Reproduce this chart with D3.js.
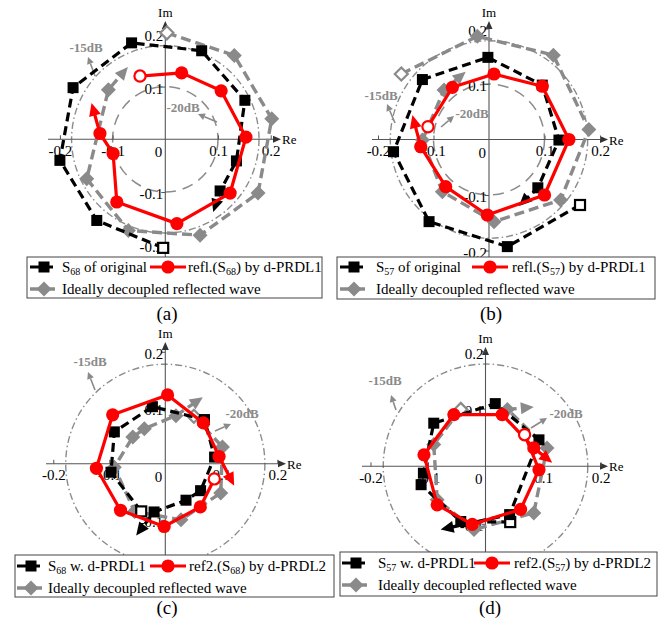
<!DOCTYPE html>
<html>
<head>
<meta charset="utf-8">
<script src="https://cdn.jsdelivr.net/npm/d3@7"></script>
<style>
  body { margin: 0; background: #fff; }
  text { font-family: "Liberation Serif", "Times New Roman", serif; }
</style>
</head>
<body>
<svg id="fig" width="668" height="620"></svg>
<script>
// ---------- data: complex reflection coefficients [Re, Im] ----------
// First entry of each trace is the starting frequency (hollow marker);
// the last entry is where the trace's arrow head ends (no marker).
const ticks = [-0.2, -0.1, 0, 0.1, 0.2];
const dbRings = [-15, -20];

// (a) port 6/8
const aOriginal = [[-0.004,-0.206],[-0.130,-0.154],[-0.200,-0.040],[-0.175,0.098],[-0.064,0.183],[0.069,0.168],[0.151,0.074],[0.135,-0.041],[0.104,-0.098],[0.091,-0.138]];
const aRefl     = [[-0.048,0.120],[0.031,0.126],[0.106,0.092],[0.153,0.004],[0.123,-0.102],[0.022,-0.160],[-0.092,-0.119],[-0.099,-0.027],[-0.124,0.011],[-0.140,0.069]];
const aIdeal    = [[0.003,0.202],[0.131,0.159],[0.202,0.039],[0.176,-0.102],[0.066,-0.182],[-0.070,-0.173],[-0.149,-0.075],[-0.108,0.094],[-0.071,0.137]];

// (b) port 5/7
const bOriginal = [[0.164,-0.118],[0.033,-0.193],[-0.108,-0.148],[-0.172,-0.022],[-0.120,0.108],[-0.002,0.148],[0.096,0.098],[0.126,-0.001],[0.088,-0.087],[0.054,-0.120]];
const bRefl     = [[-0.110,0.023],[-0.066,0.094],[0.009,0.118],[0.096,0.096],[0.144,0.000],[0.100,-0.100],[-0.003,-0.136],[-0.078,-0.085],[-0.123,-0.013],[-0.138,0.044]];
const bIdeal    = [[-0.158,0.118],[-0.021,0.186],[0.116,0.152],[0.180,0.018],[0.129,-0.109],[0.009,-0.148],[-0.084,-0.094],[-0.120,-0.001],[-0.081,0.089],[-0.042,0.122]];

// (c) port 6/8 after d-PRDL1
const cPrdl1 = [[-0.043,-0.085],[-0.097,-0.015],[-0.091,0.057],[-0.023,0.102],[0.070,0.079],[0.088,0.012],[0.063,-0.048],[0.037,-0.065],[-0.020,-0.086],[-0.052,-0.128]];
const cRef2  = [[0.0875,-0.027],[0.0625,-0.077],[-0.002,-0.112],[-0.080,-0.083],[-0.123,-0.008],[-0.094,0.0875],[0.004,0.123],[0.068,0.073],[0.096,0.013],[0.123,-0.039]];
const cIdeal = [[0.051,0.085],[0.102,0.030],[0.099,-0.052],[0.028,-0.100],[-0.055,-0.085],[-0.091,-0.006],[-0.058,0.048],[-0.0375,0.0625],[0.019,0.086],[0.067,0.119]];

// (d) port 5/7 after d-PRDL1
const dPrdl1 = [[0.043,-0.097],[-0.043,-0.096],[-0.112,-0.032],[-0.108,-0.012],[-0.090,0.075],[0.017,0.109],[0.093,0.046],[0.042,-0.084],[-0.078,-0.110]];
const dRef2  = [[0.068,0.055],[0.093,-0.006],[0.061,-0.075],[-0.023,-0.101],[-0.084,-0.067],[-0.107,0.020],[-0.055,0.090],[0.029,0.090],[0.084,0.032],[0.116,0.006]];
const dIdeal = [[-0.043,0.099],[-0.090,0.038],[-0.084,-0.058],[-0.020,-0.110],[0.084,-0.081],[0.107,0.032],[0.038,0.099],[0.084,0.103]];

// legend wording
const legendA = [["S", "68", " of original"], ["refl.(S", "68", ") by d-PRDL1"], ["Ideally decoupled reflected wave"]];
const legendB = [["S", "57", " of original"], ["refl.(S", "57", ") by d-PRDL1"], ["Ideally decoupled reflected wave"]];
const legendC = [["S", "68", " w. d-PRDL1"], ["ref2.(S", "68", ") by d-PRDL2"], ["Ideally decoupled reflected wave"]];
const legendD = [["S", "57", " w. d-PRDL1"], ["ref2.(S", "57", ") by d-PRDL2"], ["Ideally decoupled reflected wave"]];
const captions = ["(a)", "(b)", "(c)", "(d)"];

// ---------- styles ----------
const GREY = "#8a8a8a";
const RED = "#ff0000";
const styles = {
  black: { stroke: "#000", width: 3.2, dash: "9,5", marker: "square", fill: "#000" },
  red:   { stroke: RED,    width: 3.2, dash: null,  marker: "circle", fill: RED },
  grey:  { stroke: GREY,   width: 3.4, dash: "10,5", marker: "diamond", fill: GREY }
};

// ---------- layout of the four panels ----------
const panels = [
  { cx: 165.3, cy: 139.3, k: 527, xAxis: [48, 281], yAxis: [257, 21],
    series: [["grey", aIdeal], ["black", aOriginal], ["red", aRefl]], legend: legendA,
    box: [27, 257, 322, 298], rows: [267, 289], cols: [30, 62, 150, 188], cap: [167, 320],
    rings: true, notes: { l15: [86, 52], a15: [[95, 76], [88, 57]], l20: [183, 112], a20: [[217, 122], [198, 114]] } },
  { cx: 489, cy: 139.5, k: 555, xAxis: [372, 608], yAxis: [257, 21],
    series: [["grey", bIdeal], ["black", bOriginal], ["red", bRefl]], legend: legendB,
    box: [337, 257, 655, 299], rows: [267, 289], cols: [340, 376, 472, 512], cap: [491, 320],
    rings: true, notes: { l15: [381, 100], a15: [[395, 123], [387, 104]], l20: [472, 118], a20: [[441, 127], [454, 116]] } },
  { cx: 165.3, cy: 463.8, k: 560, xAxis: [46, 286], yAxis: [555, 342],
    series: [["grey", cIdeal], ["black", cPrdl1], ["red", cRef2]], legend: legendC,
    box: [15, 555, 334, 597], rows: [566, 588], cols: [17, 48, 150, 189], cap: [167, 614],
    rings: false, notes: { l15: [90, 366], a15: [[95, 390], [88, 372]], l20: [242, 418], a20: [[215, 431], [231, 424]] } },
  { cx: 485.5, cy: 466.3, k: 575, xAxis: [362, 608], yAxis: [552, 347],
    series: [["grey", dIdeal], ["black", dPrdl1], ["red", dRef2]], legend: legendD,
    box: [340, 552, 657, 596], rows: [563, 585], cols: [342, 378, 474, 514], cap: [490, 614],
    rings: false, notes: { l15: [385, 385], a15: [[396, 410], [391, 395]], l20: [566, 418], a20: [[531, 428], [547, 418]] } }
];

const svg = d3.select("#fig");

function arrowHead(g, from, to, color, len, half) {
  const ang = Math.atan2(to[1] - from[1], to[0] - from[0]);
  const bx = to[0] - len * Math.cos(ang), by = to[1] - len * Math.sin(ang);
  const px = -Math.sin(ang) * half, py = Math.cos(ang) * half;
  g.append("path")
    .attr("d", `M${to[0]},${to[1]}L${bx + px},${by + py}L${bx - px},${by - py}Z`)
    .attr("fill", color);
  return [bx, by];
}

function drawMarker(g, type, x, y, color, hollow) {
  const fill = hollow ? "#fff" : color;
  const sw = hollow ? 2.2 : 0;
  if (type === "square") {
    const s = hollow ? 10 : 11;
    g.append("rect").attr("x", x - s / 2).attr("y", y - s / 2).attr("width", s).attr("height", s)
      .attr("fill", fill).attr("stroke", color).attr("stroke-width", sw);
  } else if (type === "circle") {
    g.append("circle").attr("cx", x).attr("cy", y).attr("r", hollow ? 5.6 : 6.6)
      .attr("fill", fill).attr("stroke", color).attr("stroke-width", sw);
  } else {
    const r = hollow ? 6.5 : 7.5;
    g.append("path").attr("d", `M${x},${y - r}L${x + r},${y}L${x},${y + r}L${x - r},${y}Z`)
      .attr("fill", fill).attr("stroke", color).attr("stroke-width", sw);
  }
}

panels.forEach((p, i) => {
  const g = svg.append("g");
  const x = d3.scaleLinear().domain([0, 1]).range([p.cx, p.cx + p.k]);
  const y = d3.scaleLinear().domain([0, 1]).range([p.cy, p.cy - p.k]);
  const rr = v => x(v) - x(0);

  // constant-magnitude rings
  const ringG = g.append("g");
  ringG.append("circle").attr("cx", x(0)).attr("cy", y(0)).attr("r", rr(Math.pow(10, dbRings[0] / 20)))
    .attr("fill", "none").attr("stroke", "#8c8c8c").attr("stroke-width", 1.4)
    .attr("stroke-dasharray", "7,3,1.5,3");
  if (p.rings) {
    ringG.append("circle").attr("cx", x(0)).attr("cy", y(0)).attr("r", rr(Math.pow(10, dbRings[1] / 20)))
      .attr("fill", "none").attr("stroke", "#8c8c8c").attr("stroke-width", 1.5)
      .attr("stroke-dasharray", "11,7");
  }

  // axes
  const axG = g.append("g").attr("stroke", "#555").attr("stroke-width", 1.1);
  axG.append("line").attr("x1", p.xAxis[0]).attr("x2", p.xAxis[1] - 6).attr("y1", y(0)).attr("y2", y(0));
  axG.append("line").attr("y1", p.yAxis[0]).attr("y2", p.yAxis[1] + 6).attr("x1", x(0)).attr("x2", x(0));
  arrowHead(g, [p.xAxis[0], y(0)], [p.xAxis[1], y(0)], "#333", 8, 3.5);
  arrowHead(g, [x(0), p.yAxis[0]], [x(0), p.yAxis[1]], "#333", 8, 3.5);

  const fmt = d => d < 0 ? "-" + Math.abs(d).toFixed(1) : d.toFixed(1);
  const xAx = d3.axisBottom(x).tickValues(ticks.filter(t => t !== 0)).tickSize(-4);
  const xg = g.append("g").attr("transform", `translate(0,${y(0)})`).call(xAx);
  xg.select(".domain").remove();
  xg.selectAll(".tick line").attr("stroke", "#555");
  xg.selectAll(".tick text").attr("y", 6).attr("dy", "0.71em")
    .style("font-family", "Liberation Serif").style("font-size", "15px").attr("fill", "#000")
    .text(fmt);

  // only the Im ticks that sit on the drawn axis (above the legend box)
  const yTicks = ticks.filter(t => t !== 0 && y(t) < p.yAxis[0] - 6);
  const yAx = d3.axisLeft(y).tickValues(yTicks).tickSize(-4);
  const yg = g.append("g").attr("transform", `translate(${x(0)},0)`).call(yAx);
  yg.select(".domain").remove();
  yg.selectAll(".tick line").attr("stroke", "#555").attr("x2", -4);
  yg.selectAll(".tick text").attr("x", -2).attr("dy", "0.45em")
    .style("font-family", "Liberation Serif").style("font-size", "15px").attr("fill", "#000")
    .text(fmt);

  g.append("text").attr("x", x(0) - 3).attr("y", y(0) + 18).attr("text-anchor", "end")
    .attr("font-size", 15).text("0");
  g.append("text").attr("x", x(0)).attr("y", p.yAxis[1] - 4).attr("text-anchor", "middle")
    .attr("font-size", 13).text("Im");
  g.append("text").attr("x", p.xAxis[1] + 1).attr("y", y(0) + 5).attr("font-size", 13).text("Re");

  // dB annotations
  const n = p.notes;
  g.append("text").attr("x", n.l15[0]).attr("y", n.l15[1]).attr("text-anchor", "middle")
    .attr("font-size", 13).attr("font-weight", "bold").attr("fill", GREY).text("-15dB");
  g.append("text").attr("x", n.l20[0]).attr("y", n.l20[1]).attr("text-anchor", "middle")
    .attr("font-size", 13).attr("font-weight", "bold").attr("fill", GREY).text("-20dB");
  [n.a15, n.a20].forEach(a => {
    const base = arrowHead(g, a[0], a[1], GREY, 7, 3.5);
    g.append("line").attr("x1", a[0][0]).attr("y1", a[0][1]).attr("x2", base[0]).attr("y2", base[1])
      .attr("stroke", GREY).attr("stroke-width", 1.6);
  });

  // traces
  p.series.forEach(([key, pts]) => {
    const st = styles[key];
    const px = pts.map(d => [x(d[0]), y(d[1])]);
    const last = px[px.length - 1], prev = px[px.length - 2];
    const sg = g.append("g");
    const headLen = 13;
    // stop the line at the arrow head's base
    const ang = Math.atan2(last[1] - prev[1], last[0] - prev[0]);
    const lineEnd = [last[0] - headLen * 0.8 * Math.cos(ang), last[1] - headLen * 0.8 * Math.sin(ang)];
    const linePts = px.slice(0, -1).concat([lineEnd]);
    sg.append("path").attr("d", d3.line()(linePts)).attr("fill", "none")
      .attr("stroke", st.stroke).attr("stroke-width", st.width)
      .attr("stroke-dasharray", st.dash).attr("stroke-linejoin", "round");
    arrowHead(sg, prev, last, st.fill, headLen, 6);
    px.slice(0, -1).forEach((q, j) => drawMarker(sg, st.marker, q[0], q[1], st.fill, j === 0));
  });

  // legend
  const lg = g.append("g");
  lg.append("rect").attr("x", p.box[0]).attr("y", p.box[1])
    .attr("width", p.box[2] - p.box[0]).attr("height", p.box[3] - p.box[1])
    .attr("fill", "#fff").attr("stroke", "#444").attr("stroke-width", 1);
  const sample = (key, x0, x1, yy) => {
    const st = styles[key];
    lg.append("line").attr("x1", x0).attr("x2", x1).attr("y1", yy).attr("y2", yy)
      .attr("stroke", st.stroke).attr("stroke-width", st.width).attr("stroke-dasharray", st.dash);
    drawMarker(lg, st.marker, (x0 + x1) / 2, yy, st.fill, false);
  };
  const label = (parts, xx, yy) => {
    const t = lg.append("text").attr("x", xx).attr("y", yy + 5).attr("font-size", 15);
    if (parts.length === 1) { t.text(parts[0]); return; }
    t.append("tspan").text(parts[0]);
    t.append("tspan").attr("font-size", 10).attr("dy", 3).text(parts[1]);
    t.append("tspan").attr("dy", -3).text(parts[2]);
  };
  const [c0, c1, c2, c3] = p.cols;
  sample("black", c0, c0 + 28, p.rows[0]);
  label(p.legend[0], c1, p.rows[0]);
  sample("red", c2, c2 + 36, p.rows[0]);
  label(p.legend[1], c3, p.rows[0]);
  sample("grey", c0, c0 + 28, p.rows[1]);
  label(p.legend[2], c1, p.rows[1]);

  g.append("text").attr("x", p.cap[0]).attr("y", p.cap[1]).attr("text-anchor", "middle")
    .attr("font-size", 19).text(captions[i]);
});
</script>
</body>
</html>
